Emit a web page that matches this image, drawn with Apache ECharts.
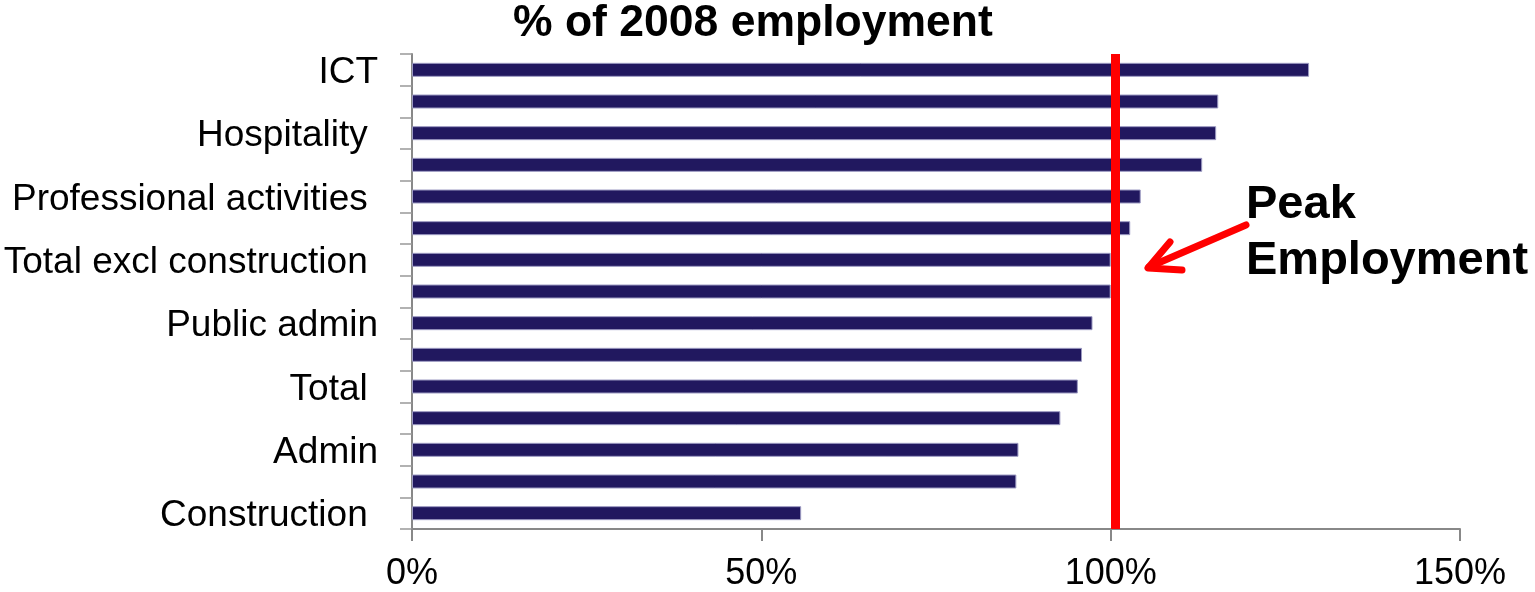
<!DOCTYPE html>
<html>
<head>
<meta charset="utf-8">
<script src="https://cdn.jsdelivr.net/npm/echarts@6/dist/echarts.min.js"></script>
<style>
  html, body { margin: 0; padding: 0; background: #fff; }
  #chartBox { width: 1535px; height: 592px; }
</style>
</head>
<body>
<div id="chartBox"></div>
<script>
// categories top to bottom; only every other one carries a label in the original
const categories = [
  'ICT', '', 'Hospitality ', '', 'Professional activities ', '', 'Total excl construction ', '',
  'Public admin', '', 'Total ', '', 'Admin', '', 'Construction '
];
// % of 2008 employment
const pctOf2008 = [128.4, 115.4, 115.1, 113.1, 104.3, 102.8, 100.0, 100.0, 97.4, 95.9, 95.3, 92.8, 86.8, 86.5, 55.7];
const xTicks = [0, 50, 100, 150];
const peakLevel = 100.7;

const myChart = echarts.init(document.getElementById('chartBox'));
const FONT = '"Liberation Sans", Arial, sans-serif';

let option = {
  animation: false,
  title: {
    text: '% of 2008 employment',
    left: 513,
    top: 1,
    padding: 0,
    textStyle: { fontFamily: FONT, fontSize: 44.5, fontWeight: 'bold', color: '#000' }
  },
  grid: {
    left: 412,
    right: 75,
    top: 54,
    bottom: 61,
    containLabel: false
  },
  xAxis: {
    type: 'value',
    min: xTicks[0],
    max: xTicks[xTicks.length - 1],
    interval: 50,
    axisLine: { show: true, lineStyle: { color: '#888', width: 2 } },
    axisTick: { show: true, length: 12, lineStyle: { color: '#888', width: 2 } },
    splitLine: { show: false },
    axisLabel: {
      formatter: '{value}%',
      margin: 27,
      fontFamily: FONT,
      fontSize: 36,
      color: '#000'
    }
  },
  yAxis: {
    type: 'category',
    inverse: true,
    data: categories,
    axisLine: { show: true, lineStyle: { color: '#888', width: 2 } },
    axisTick: { show: true, interval: 0, length: 12, lineStyle: { color: '#999', width: 1.5 } },
    axisLabel: {
      interval: 0,
      margin: 34,
      verticalAlign: 'top',
      lineHeight: 6,
      fontFamily: FONT,
      fontSize: 37,
      color: '#000'
    }
  },
  series: [{
    name: '% of 2008 employment',
    type: 'bar',
    data: pctOf2008,
    barWidth: 14,
    itemStyle: {
      color: '#21185F',
      borderColor: '#9c9ac2',
      borderWidth: 1
    },
    markLine: {
      silent: true,
      symbol: 'none',
      label: { show: false },
      lineStyle: { color: '#ff0000', width: 9, type: 'solid' },
      data: [{ xAxis: peakLevel }]
    }
  }],
  graphic: [
    {
      type: 'text',
      left: 1246,
      top: 177,
      style: {
        text: 'Peak\nEmployment',
        font: 'bold 47px ' + FONT,
        lineHeight: 56,
        fill: '#000'
      }
    },
    {
      type: 'polyline',
      shape: { points: [[1246, 225], [1149, 267]] },
      style: { stroke: '#ff0000', lineWidth: 7, lineCap: 'round' }
    },
    {
      type: 'polyline',
      shape: { points: [[1170, 242], [1148, 268], [1182, 270]] },
      style: { stroke: '#ff0000', lineWidth: 7, lineCap: 'round', lineJoin: 'round' }
    }
  ]
};

myChart.setOption(option);
</script>
</body>
</html>
